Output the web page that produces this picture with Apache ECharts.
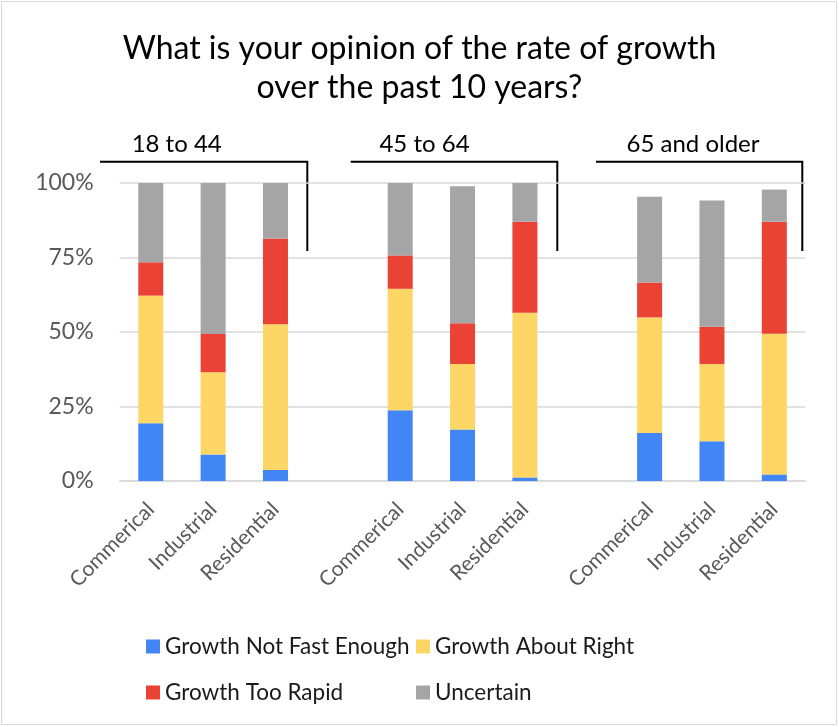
<!DOCTYPE html>
<html>
<head>
<meta charset="utf-8">
<script src="https://cdn.jsdelivr.net/npm/echarts@6/dist/echarts.min.js"></script>
<style>html,body{margin:0;padding:0;background:#fff}#c{width:839px;height:727px}</style>
</head>
<body>
<div id="c"></div>
<script>
var groups = ['18 to 44', '45 to 64', '65 and older'];
var subCategories = ['Commerical', 'Industrial', 'Residential'];
var seriesNames = ['Growth Not Fast Enough', 'Growth About Right', 'Growth Too Rapid', 'Uncertain'];
// values per bar, in order: 18-44 (Com, Ind, Res), 45-64 (...), 65+ (...)
var notFastEnough = [19.4, 8.9, 3.7, 23.7, 17.3, 1.2, 16.1, 13.3, 2.2];
var aboutRight    = [42.8, 27.6, 48.9, 40.8, 22.0, 55.3, 38.8, 26.0, 47.2];
var tooRapid      = [11.2, 12.8, 28.8, 11.2, 13.6, 30.5, 11.7, 12.5, 37.6];
var uncertain     = [26.6, 50.7, 18.6, 24.3, 46.0, 13.0, 28.8, 42.3, 10.8];
var yTicks = [0, 25, 50, 75, 100];

var colors = ['#4285F4', '#FDD665', '#EA4335', '#A5A5A5'];
var font = 'Lato';

// build category axis with an empty slot between groups
var categories = [];
function withGaps(arr) {
  var out = [];
  for (var g = 0; g < groups.length; g++) {
    for (var s = 0; s < subCategories.length; s++) out.push(arr[g * 3 + s]);
    if (g < groups.length - 1) out.push('-');
  }
  return out;
}
for (var g = 0; g < groups.length; g++) {
  for (var s = 0; s < subCategories.length; s++) categories.push(subCategories[s]);
  if (g < groups.length - 1) categories.push('');
}
var allData = [notFastEnough, aboutRight, tooRapid, uncertain];

var chart = echarts.init(document.getElementById('c'), null, {renderer: 'canvas'});
var series = seriesNames.map(function (n, i) {
  return {
    name: n, type: 'bar', stack: 'total', barWidth: 25,
    itemStyle: {color: colors[i]},
    data: withGaps(allData[i])
  };
});

var bracketX = [[100, 307.3], [350.7, 557.3], [596, 802.3]];
var groupLabelX = [176.7, 424.5, 693];
var graphics = [{
  type: 'rect', shape: {x: 1.5, y: 1.5, width: 835, height: 723},
  style: {fill: 'none', stroke: '#d9d9d9', lineWidth: 1}, silent: true
}];
for (var k = 0; k < groups.length; k++) {
  graphics.push({
    type: 'polyline',
    shape: {points: [[bracketX[k][0], 161.7], [bracketX[k][1], 161.7], [bracketX[k][1], 251]]},
    style: {stroke: '#000', lineWidth: 2, fill: 'none'}, silent: true
  });
  graphics.push({
    type: 'text', x: groupLabelX[k], y: 144,
    style: {text: groups[k], font: '24px "' + font + '"', fill: '#000', align: 'center', verticalAlign: 'middle'}
  });
}

chart.setOption({
  animation: false,
  backgroundColor: '#fff',
  title: {
    text: 'What is your opinion of the rate of growth\nover the past 10 years?',
    left: 'center', top: 24,
    textStyle: {fontFamily: font, fontSize: 32, fontWeight: 'normal', color: '#000', lineHeight: 39}
  },
  legend: [{
    data: [seriesNames[0], seriesNames[2]],
    orient: 'vertical', left: 141, top: 630, itemGap: 23,
    itemWidth: 14, itemHeight: 14, icon: 'rect', itemTextGap: 5,
    textStyle: {fontFamily: font, fontSize: 22.5, color: '#1a1a1a'}
  }, {
    data: [seriesNames[1], seriesNames[3]],
    orient: 'vertical', left: 411, top: 630, itemGap: 23,
    itemWidth: 14, itemHeight: 14, icon: 'rect', itemTextGap: 5,
    textStyle: {fontFamily: font, fontSize: 22.5, color: '#1a1a1a'}
  }],
  grid: {left: 119.6, right: 33.5, top: 183, bottom: 246, containLabel: false},
  xAxis: {
    type: 'category', data: categories,
    axisLine: {show: true, lineStyle: {color: '#d9d9d9', width: 1.5}},
    axisTick: {show: false},
    axisLabel: {rotate: 45, interval: 0, margin: 25, fontFamily: font, fontSize: 21, color: '#595959'}
  },
  yAxis: {
    type: 'value', min: yTicks[0], max: yTicks[yTicks.length - 1], interval: 25,
    axisLine: {show: false}, axisTick: {show: false},
    axisLabel: {formatter: '{value}%', margin: 26, fontFamily: font, fontSize: 23, color: '#595959'},
    splitLine: {lineStyle: {color: '#d9d9d9', width: 1.5}}
  },
  series: series,
  graphic: graphics
});
</script>
</body>
</html>
